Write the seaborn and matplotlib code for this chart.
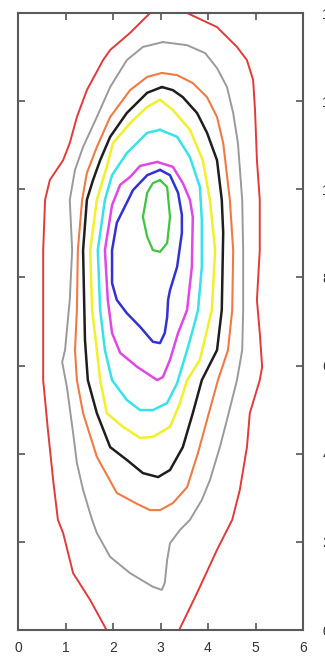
import matplotlib
matplotlib.use("Agg")
import matplotlib.pyplot as plt
import seaborn as sns
import pandas as pd

# contour outlines (data coordinates)
red_x = [2.82, 2.78, 2.36, 1.94, 1.79, 1.45, 1.24, 1.09, 0.95, 0.67, 0.57, 0.53, 0.53, 0.53, 0.63, 0.74, 0.84, 0.95, 1.16, 1.52, 1.89, 1.94,
         3.41, 3.37, 3.77, 4.19, 4.51, 4.67, 4.82, 4.88, 5.09, 5.14, 5.09, 5.03, 5.09, 5.09, 5.03, 4.99, 4.95, 4.82, 4.61, 4.19, 3.56, 3.52]
red_y = [14.18, 14.0, 13.55, 13.16, 12.93, 12.25, 11.64, 11.05, 10.66, 10.21, 9.76, 8.62, 7.26, 5.67, 4.54, 3.40, 2.50, 2.20, 1.29, 0.68, -0.05, -0.23,
         -0.23, -0.05, 0.84, 1.82, 2.50, 3.18, 4.15, 4.92, 5.67, 5.97, 6.74, 7.49, 8.62, 9.76, 10.66, 11.80, 12.48, 12.93, 13.23, 13.68, 14.0, 14.18]

gray_x = [3.05, 3.56, 3.94, 4.19, 4.40, 4.53, 4.63, 4.72, 4.74, 4.74, 4.72, 4.61, 4.40, 4.25, 4.04, 3.87, 3.62, 3.41, 3.20, 3.14, 3.09, 3.03,
          2.84, 2.36, 1.94, 1.66, 1.56, 1.37, 1.24, 1.16, 1.03, 0.93, 0.99, 1.09, 1.14, 1.09, 1.20, 1.37, 1.66, 1.94, 2.29, 2.63, 3.05]
gray_y = [13.34, 13.27, 13.09, 12.75, 12.32, 11.73, 11.05, 9.76, 8.62, 7.26, 6.35, 5.67, 4.77, 4.15, 3.40, 2.95, 2.50, 2.27, 1.97, 1.59, 1.07, 0.91,
          0.98, 1.29, 1.66, 2.20, 2.50, 3.18, 3.79, 4.47, 5.51, 6.08, 6.35, 7.49, 8.62, 9.76, 10.44, 10.96, 11.64, 12.32, 12.93, 13.23, 13.34]

orange_x = [3.03, 3.35, 3.68, 3.98, 4.19, 4.32, 4.46, 4.53, 4.51, 4.42, 4.21, 3.98, 3.79, 3.56, 3.26, 2.99, 2.78, 2.51, 2.08, 1.66, 1.37,
            1.24, 1.20, 1.24, 1.26, 1.35, 1.45, 1.66, 1.94, 2.36, 2.72, 3.03]
orange_y = [12.64, 12.59, 12.41, 12.09, 11.64, 11.05, 9.76, 8.62, 7.26, 6.35, 5.67, 4.77, 4.02, 3.24, 2.88, 2.72, 2.72, 2.86, 3.11, 3.93, 4.92,
            5.67, 6.35, 7.26, 8.62, 9.76, 10.37, 10.96, 11.64, 12.25, 12.55, 12.64]

black_x = [3.03, 3.26, 3.47, 3.77, 3.98, 4.19, 4.29, 4.32, 4.29, 4.19, 3.87, 3.68, 3.47, 3.20, 2.95, 2.63, 2.29, 1.94, 1.66, 1.47, 1.41,
           1.37, 1.45, 1.58, 1.73, 1.94, 2.29, 2.72, 3.03]
black_y = [12.32, 12.25, 12.09, 11.73, 11.28, 10.66, 9.76, 9.01, 7.26, 6.35, 5.67, 4.92, 4.15, 3.63, 3.47, 3.56, 3.86, 4.15, 4.92, 5.67, 6.58,
           8.62, 9.76, 10.21, 10.66, 11.19, 11.73, 12.19, 12.32]

yellow_x = [2.99, 3.26, 3.62, 3.89, 4.04, 4.15, 4.08, 3.83, 3.56, 3.41, 3.20, 2.84, 2.57, 2.21, 1.87, 1.73, 1.66, 1.56, 1.52, 1.66, 1.87,
            2.00, 2.36, 2.72, 2.99]
yellow_y = [12.03, 11.80, 11.35, 10.66, 9.76, 8.62, 7.26, 6.13, 5.67, 5.15, 4.61, 4.38, 4.36, 4.61, 4.92, 5.67, 6.35, 7.26, 8.62, 9.76, 10.51,
            11.05, 11.50, 11.87, 12.03]

cyan_x = [2.99, 3.35, 3.62, 3.83, 3.87, 3.87, 3.79, 3.68, 3.56, 3.35, 3.14, 2.84, 2.57, 2.29, 1.98, 1.83, 1.73, 1.68, 1.83, 1.98, 2.29, 2.72, 2.99]
cyan_y = [11.35, 11.19, 10.73, 10.05, 9.30, 8.24, 7.26, 6.81, 6.35, 5.60, 5.15, 4.99, 4.99, 5.22, 5.67, 6.35, 7.26, 8.62, 9.76, 10.32, 10.82, 11.28, 11.35]

magenta_x = [2.93, 3.26, 3.47, 3.62, 3.68, 3.66, 3.56, 3.37, 3.20, 3.05, 2.93, 2.51, 2.15, 1.98, 1.89, 1.83, 1.98, 2.15, 2.36, 2.57, 2.93]
magenta_y = [10.62, 10.51, 10.14, 9.76, 9.37, 8.24, 7.26, 6.74, 6.13, 5.74, 5.67, 5.97, 6.29, 6.74, 7.49, 8.62, 9.64, 10.10, 10.28, 10.53, 10.62]

blue_x = [2.99, 3.20, 3.37, 3.45, 3.45, 3.35, 3.20, 3.16, 3.14, 3.09, 2.99, 2.84, 2.57, 2.29, 2.08, 1.98, 1.98, 2.08, 2.32, 2.42, 2.72, 2.99]
blue_y = [10.44, 10.32, 9.92, 9.42, 9.01, 8.24, 7.71, 7.49, 7.10, 6.74, 6.51, 6.54, 6.88, 7.19, 7.49, 7.87, 8.62, 9.24, 9.76, 9.98, 10.32, 10.44]

green_x = [2.99, 3.14, 3.20, 3.14, 2.99, 2.84, 2.72, 2.63, 2.72, 2.84, 2.99]
green_y = [10.21, 10.05, 9.37, 8.78, 8.58, 8.62, 8.92, 9.37, 9.92, 10.14, 10.21]

x_ticks = [0, 1, 2, 3, 4, 5, 6]
y_ticks = [0, 2, 4, 6, 8, 10, 12, 14]

contours = [
    ("red", red_x, red_y, "#e23a3a", 1.4),
    ("gray", gray_x, gray_y, "#9a9a9a", 1.4),
    ("orange", orange_x, orange_y, "#f07a45", 1.5),
    ("black", black_x, black_y, "#1e1e1e", 1.8),
    ("yellow", yellow_x, yellow_y, "#f2f02a", 1.8),
    ("cyan", cyan_x, cyan_y, "#38e2ea", 1.8),
    ("magenta", magenta_x, magenta_y, "#e048e6", 1.8),
    ("blue", blue_x, blue_y, "#3232d2", 1.8),
    ("green", green_x, green_y, "#3fc43f", 1.6),
]

sns.set_style("white")
plt.rcParams["font.family"] = ["Liberation Sans", "DejaVu Sans"]

fig = plt.figure(figsize=(3.25, 6.58), dpi=100)
ax = fig.add_axes([18 / 325, 28 / 658, 285 / 325, 617 / 658])

for name, xs, ys, col, lw in contours:
    df = pd.DataFrame({"x": xs, "y": ys})
    sns.lineplot(data=df, x="x", y="y", sort=False, estimator=None, color=col,
                 linewidth=lw, ax=ax, legend=False,
                 solid_joinstyle="round", solid_capstyle="round")

ax.set_xlim(0, 6)
ax.set_ylim(0, 14)
ax.set_xticks(x_ticks)
ax.set_yticks(y_ticks)
ax.set_xlabel("")
ax.set_ylabel("")
ax.tick_params(axis="x", direction="in", length=5, width=1.2, color="#555555",
               labelsize=10, labelcolor="#333333", top=True, bottom=True, pad=8)
ax.tick_params(axis="y", direction="in", length=5, width=1.2, color="#555555",
               labelsize=10, labelcolor="#333333", left=True, right=True,
               labelleft=False, labelright=True, pad=14)
for s in ax.spines.values():
    s.set_color("#5a5a5a")
    s.set_linewidth(1.5)

fig.savefig("out.png", dpi=100)
